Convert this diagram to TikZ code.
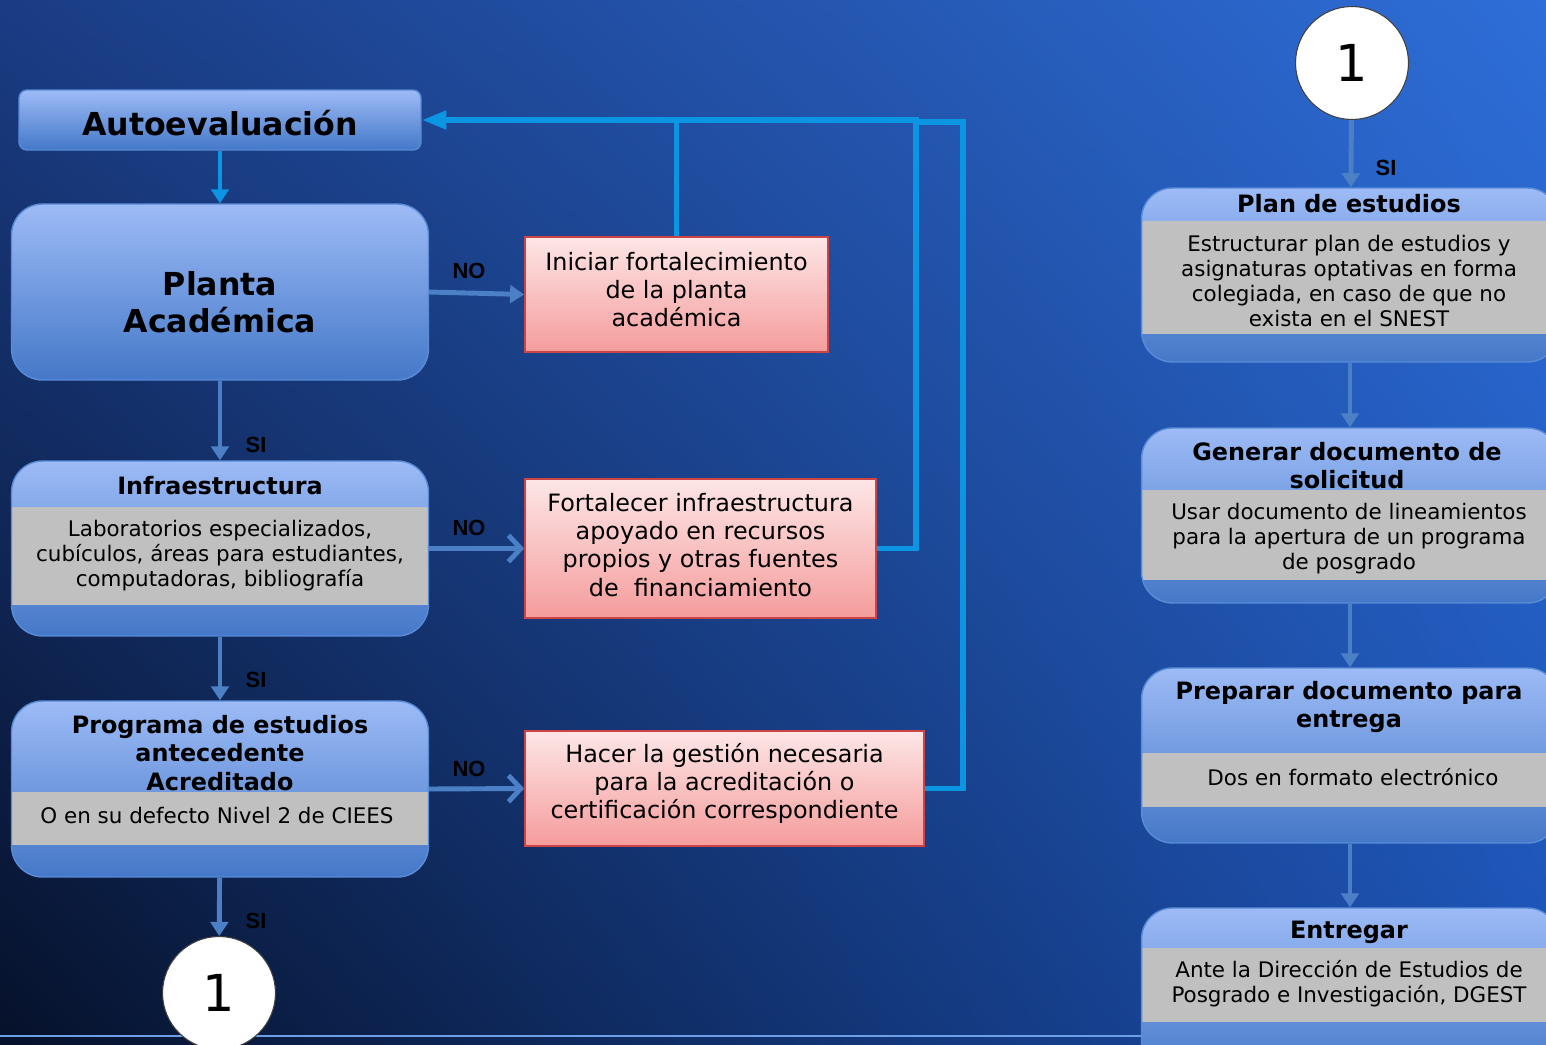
\documentclass[tikz,border=0pt]{standalone}
\usepackage{fontspec}
\setmainfont{DejaVu Sans}
\newfontfamily\labfont{Liberation Sans}
\usepackage{tikz}
\usetikzlibrary{arrows.meta, shadings}

\definecolor{bgTL}{HTML}{1A3C84}
\definecolor{bgTR}{HTML}{2E6ED8}
\definecolor{bgBL}{HTML}{06112A}
\definecolor{bgBR}{HTML}{1C52B4}
\definecolor{boxtop}{HTML}{9DBBF6}
\definecolor{boxbot}{HTML}{4478C8}
\definecolor{boxedge}{HTML}{5A8CD6}
\definecolor{bodygray}{HTML}{C0C0C0}
\definecolor{redtop}{HTML}{FDE6E6}
\definecolor{redbot}{HTML}{F59C9C}
\definecolor{rededge}{HTML}{CC4444}
\definecolor{steel}{HTML}{4C80C6}
\definecolor{cyanline}{HTML}{0C95E2}
\definecolor{glow}{HTML}{6E9EE6}

\begin{document}
\begin{tikzpicture}[x=0.02cm, y=-0.02cm,
  bluebox/.style={draw=boxedge, line width=0.8pt, rounded corners=0.62cm, top color=boxtop, bottom color=boxbot, inner sep=0pt, minimum width=8.34cm},
  band/.style 2 args={path picture={\fill[bodygray, sharp corners] ([yshift=-#1]path picture bounding box.north west) rectangle ([yshift=#2]path picture bounding box.south east);}},
  redbox/.style={draw=rededge, line width=1pt, top color=redtop, bottom color=redbot, inner sep=0pt},
  redtext/.style={align=center, font=\fontsize{13.6}{16}\selectfont},
  circ/.style={circle, fill=white, draw=black!75, line width=0.6pt, minimum size=2.26cm, inner sep=0pt, font=\fontsize{29}{32}\selectfont},
  head/.style={font=\bfseries\fontsize{13.6}{16}\selectfont, align=center},
  body/.style={font=\fontsize{12.2}{14.2}\selectfont, align=center},
  yesno/.style={font=\labfont\bfseries\fontsize{12.5}{13}\selectfont},
  flow/.style={draw=steel, line width=2.8pt, -{Triangle[length=8pt,width=10pt]}},
  flowopen/.style={draw=steel, line width=2.8pt, -{Straight Barb[length=7pt,width=15pt,line width=2.8pt]}},
  back/.style={draw=cyanline, line width=3.4pt}]

  % background
  \shade[upper left=bgTL, upper right=bgTR, lower left=bgBL, lower right=bgBR] (0,0) rectangle (1546,1045);
  \useasboundingbox (0,0) rectangle (1546,1045);
  \clip (0,0) rectangle (1546,1045);
  \draw[glow, line width=1.4pt] (0,1036) -- (1546,1036);

  % left column
  \node[bluebox, rounded corners=0.16cm, minimum width=8.04cm, minimum height=1.2cm] (auto) at (220,120) {};
  \node[bluebox, minimum height=3.52cm] (planta) at (220,292) {};
  \node[bluebox, band={0.92cm}{0.62cm}, minimum height=3.5cm] (infra) at (220,548.5) {};
  \node[bluebox, band={1.82cm}{0.64cm}, minimum height=3.52cm] (prog) at (220,789) {};
  \node[circ] (c1) at (219,993) {1};

  \node[font=\bfseries\fontsize{18}{22}\selectfont] (autotxt) at (220,123) {Autoevaluación};
  \node[align=center, font=\bfseries\fontsize{18}{21}\selectfont] (plantatxt) at (220,302) {Planta\\Académica};
  \node[head] (infrahead) at (220,486) {Infraestructura};
  \node[body] (infrabody) at (220,556) {Laboratorios especializados,\\cubículos, áreas para estudiantes,\\computadoras, bibliografía};
  \node[head] (proghead) at (220,753) {Programa de estudios\\antecedente\\Acreditado};
  \node[body] (progbody) at (217,816) {O en su defecto Nivel 2 de CIEES};

  % acciones
  \node[redbox, minimum width=6.06cm, minimum height=2.3cm] (iniciar) at (676.5,294.5) {};
  \node[redbox, minimum width=7.02cm, minimum height=2.78cm] (fort) at (700.5,548.5) {};
  \node[redbox, minimum width=7.98cm, minimum height=2.3cm] (hacer) at (724.5,788.5) {};
  \node[redtext] (iniciartxt) at (676.5,289.5) {Iniciar fortalecimiento\\de la planta\\académica};
  \node[redtext] (forttxt) at (700.5,545) {Fortalecer infraestructura\\apoyado en recursos\\propios y otras fuentes\\de~~financiamiento};
  \node[redtext] (hacertxt) at (724.5,783.5) {Hacer la gestión necesaria\\para la acreditación o\\certificación correspondiente};

  % right column
  \node[circ] (c2) at (1352,63) {1};
  \node[bluebox, band={0.66cm}{0.56cm}, minimum height=3.48cm] (plan) at (1350,275) {};
  \node[bluebox, band={1.24cm}{0.46cm}, minimum height=3.5cm] (gen) at (1350,515.5) {};
  \node[bluebox, band={1.7cm}{0.72cm}, minimum height=3.5cm] (prep) at (1350,755.5) {};
  \node[bluebox, band={0.8cm}{1.16cm}, minimum height=3.44cm] (entr) at (1350,994) {};

  \node[head] (planhead) at (1349,204) {Plan de estudios};
  \node[body] (planbody) at (1349,281) {Estructurar plan de estudios y\\asignaturas optativas en forma\\colegiada, en caso de que no\\exista en el SNEST};
  \node[head] (genhead) at (1347,466) {Generar documento de\\solicitud};
  \node[body] (genbody) at (1349,539) {Usar documento de lineamientos\\para la apertura de un programa\\de posgrado};
  \node[head] (prephead) at (1349,707) {Preparar documento para\\entrega};
  \node[body] (prepbody) at (1353,777) {Dos en formato electrónico};
  \node[head] (entrhead) at (1349,932) {Entregar};
  \node[body] (entrbody) at (1349,984) {Ante la Dirección de Estudios de\\Posgrado e Investigación, DGEST};

  % SI / NO flow
  \draw[flow, draw=cyanline] (auto) -- (planta);
  \draw[flow] (planta.east) -- (iniciar.west);
  \draw[flow] (planta) -- (infra);
  \draw[flowopen] (infra) -- (fort);
  \draw[flow] (infra) -- (prog);
  \draw[flowopen] (prog.east) -- (hacer.west);
  \draw[flow] (prog) -- (c1);
  \draw[flow] (c2) -- (plan);
  \draw[flow] (plan) -- (gen);
  \draw[flow] (gen) -- (prep);
  \draw[flow] (prep) -- (entr);

  \node[yesno] (no1) at (469,271) {NO};
  \node[yesno] (no2) at (469,528) {NO};
  \node[yesno] (no3) at (469,769) {NO};
  \node[yesno] (si1) at (256,445) {SI};
  \node[yesno] (si2) at (256,680) {SI};
  \node[yesno] (si3) at (256,921) {SI};
  \node[yesno] (si4) at (1386,168) {SI};

  % back to Autoevaluacion
  \coordinate (j1) at (916,120);
  \coordinate (j2) at (963,122);
  \draw[back] (iniciar.north) -- (iniciar.north |- j1);
  \draw[back] (hacer.east) -| (j2) -- (j2 -| j1);
  \draw[back, -{Triangle[length=14pt,width=10pt]}] (fort.east) -| (j1) -- (auto.east);

\end{tikzpicture}
\end{document}
